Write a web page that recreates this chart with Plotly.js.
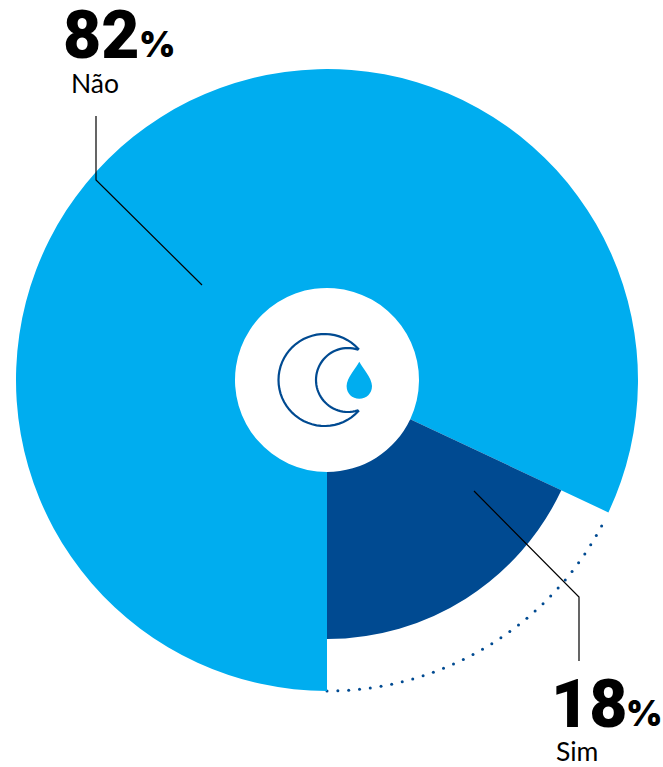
<!DOCTYPE html>
<html>
<head>
<meta charset="utf-8">
<script src="https://cdn.plot.ly/plotly-3.0.1.min.js"></script>
<style>html,body{margin:0;padding:0;background:#fff}#chart{width:663px;height:767px}</style>
</head>
<body>
<div id="chart"></div>
<script>
// Survey answers, in percent
const categories = ['Não', 'Sim'];
const shares = [82, 18];
const percentLabels = ['82', '18'];

const lightBlue = '#00ADEF';
const darkBlue = '#004A91';
const clear = 'rgba(0,0,0,0)';

const W = 663, H = 767;
const cx = 327, cy = 380;
const rOuter = 311, rInner = 259, rHole = 92;

function pieDomain(r) {
  return {
    x: [(cx - r) / W, (cx + r) / W],
    y: [1 - (cy + r) / H, 1 - (cy - r) / H]
  };
}

function ring(r, colors) {
  return {
    type: 'pie', labels: categories, values: shares, sort: false,
    direction: 'clockwise', rotation: 180, hole: rHole / r,
    domain: pieDomain(r), textinfo: 'none', hoverinfo: 'skip',
    showlegend: false, marker: { colors: colors, line: { width: 0 } }
  };
}

// Dotted rim that traces the full radius of the shorter "Sim" wedge
const simSpan = shares[1] / 100 * 360;
const dotStep = 2;
const dotX = [], dotY = [];
for (let a = 0; a < simSpan - 2; a += dotStep) {
  const t = (180 - a) * Math.PI / 180;
  dotX.push(cx + rOuter * Math.sin(t));
  dotY.push(cy - rOuter * Math.cos(t));
}

const traces = [
  { type: 'scatter', mode: 'markers', x: dotX, y: dotY, hoverinfo: 'skip',
    showlegend: false, marker: { size: 3, color: darkBlue } },
  ring(rOuter, [lightBlue, clear]),
  ring(rInner, [clear, darkBlue])
];

function arcPoints(x0, y0, r, fromDeg, toDeg) {
  const pts = [];
  const n = 48;
  for (let i = 0; i <= n; i++) {
    const t = (fromDeg + (toDeg - fromDeg) * i / n) * Math.PI / 180;
    pts.push((x0 + r * Math.cos(t)).toFixed(2) + ',' + (y0 + r * Math.sin(t)).toFixed(2));
  }
  return pts;
}

// Crescent moon: the outer arc runs the long way round, the inner arc comes back
const moonOuter = arcPoints(324.5, 380, 46, -42.8, -317.2);
const moonInner = arcPoints(348, 380, 32, 72.5, 287.5);
const moonPath = 'M' + moonOuter.join(' L') + ' L' + moonInner.join(' L') + ' Z';

const dropPath = 'M359.3,361.7 C362,367 372,378 372,386 C372,393.5 366.5,398.8 359.3,398.8 ' +
  'C352.1,398.8 346.6,393.5 346.6,386 C346.6,378 356.6,367 359.3,361.7 Z';

const leader = { color: '#000', width: 1.2 };
const shapes = [
  { type: 'path', layer: 'above', xref: 'x', yref: 'y', path: 'M96,116 L96,180 L202,285', line: leader },
  { type: 'path', layer: 'above', xref: 'x', yref: 'y', path: 'M474,491 L579,597 L579,661', line: leader },
  { type: 'path', layer: 'above', xref: 'x', yref: 'y', path: moonPath, line: { color: darkBlue, width: 2.2 } },
  { type: 'path', layer: 'above', xref: 'x', yref: 'y', path: dropPath, fillcolor: lightBlue, line: { width: 0 } }
];

function label(text, x, y, family, size, weight) {
  return {
    text: text, x: x, y: y, xref: 'x', yref: 'y', xanchor: 'left', yanchor: 'middle',
    showarrow: false, borderpad: 0,
    font: { family: family, size: size, weight: weight, color: '#000' }
  };
}

const big = 'Roboto, sans-serif', pct = 'Inter, sans-serif', small = 'Lato, sans-serif';
const annotations = [
  label(percentLabels[0], 62, 35, big, 66, 900),
  label('%', 138, 44, pct, 35, 900),
  label(categories[0], 70, 83, small, 26.5, 400),
  label(percentLabels[1], 550, 704, big, 66, 900),
  label('%', 625, 713, pct, 35, 900),
  label(categories[1], 555, 751, small, 26.5, 400)
];

const layout = {
  width: W, height: H,
  margin: { l: 0, r: 0, t: 0, b: 0, pad: 0 },
  paper_bgcolor: '#fff', plot_bgcolor: clear,
  showlegend: false,
  xaxis: { range: [0, W], visible: false, fixedrange: true },
  yaxis: { range: [H, 0], visible: false, fixedrange: true },
  shapes: shapes, annotations: annotations
};

Plotly.newPlot('chart', traces, layout, { displayModeBar: false, staticPlot: true });
</script>
</body>
</html>
